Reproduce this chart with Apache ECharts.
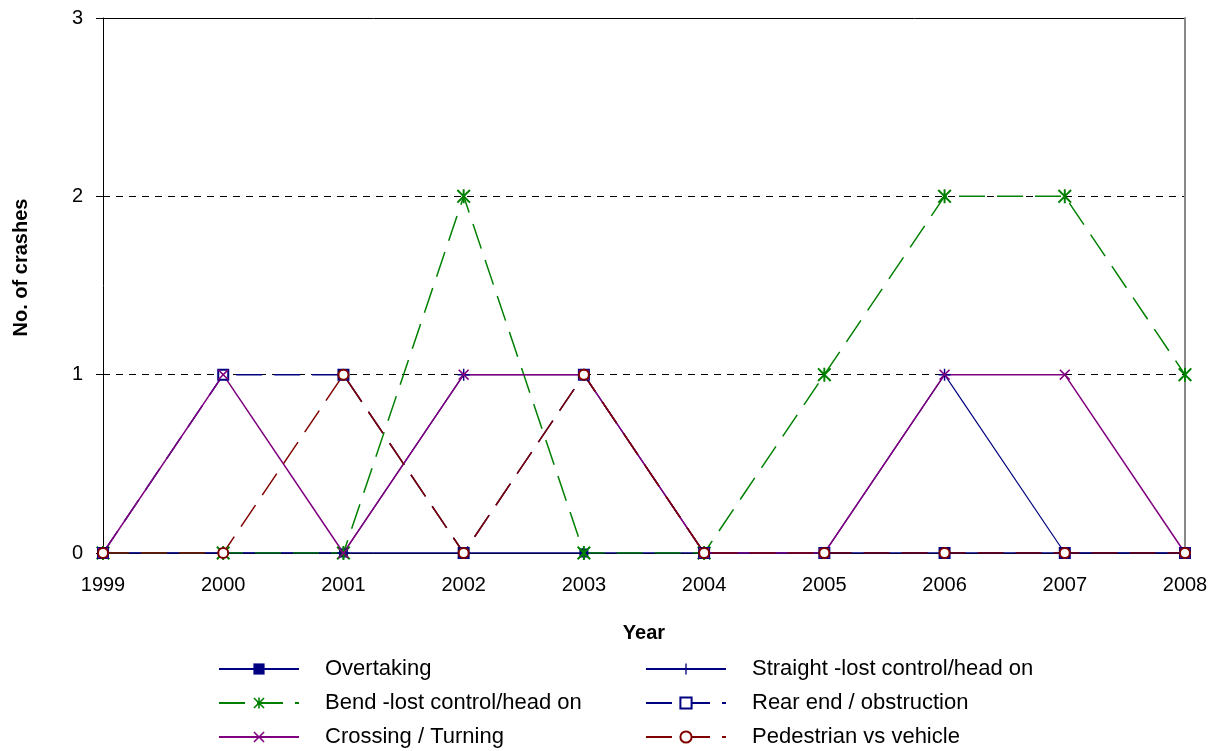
<!DOCTYPE html>
<html>
<head>
<meta charset="utf-8">
<script src="https://cdn.jsdelivr.net/npm/echarts@6/dist/echarts.min.js"></script>
<style>
    html, body { margin: 0; padding: 0; background: #fff; }
    #chart { width: 1220px; height: 751px; }
</style>
</head>
<body>
<div id="chart"></div>
<script>
    // data
    var years = ['1999', '2000', '2001', '2002', '2003', '2004', '2005', '2006', '2007', '2008'];
    var overtaking = [0, 0, 0, 0, 0, 0, 0, 0, 0, 0];
    var straight = [0, 0, 0, 1, 1, 0, 0, 1, 0, 0];
    var bend = [0, 0, 0, 2, 0, 0, 1, 2, 2, 1];
    var rearEnd = [0, 1, 1, 0, 1, 0, 0, 0, 0, 0];
    var crossing = [0, 1, 0, 1, 1, 0, 0, 1, 1, 0];
    var pedestrian = [0, 0, 1, 0, 1, 0, 0, 0, 0, 0];

    var font = "'Liberation Sans', Arial, sans-serif";
    var xMark = 'path://M0,1L1,0L5,4L9,0L10,1L6,5L10,9L9,10L5,6L1,10L0,9L4,5Z';
    var plusMark = 'path://M4.4,0H5.6V4.4H10V5.6H5.6V10H4.4V5.6H0V4.4H4.4Z';
    var starMark = 'path://M0,1L1,0L5,4L9,0L10,1L6,5L10,9L9,10L5,6L1,10L0,9L4,5ZM4.3,0H5.7V10H4.3Z';
    var dash = [26, 12];

    // one legend box per entry so the two columns sit where they should
    function legendItem(name, left, top) {
        return {
            data: [name],
            left: left,
            top: top,
            itemWidth: 80,
            itemHeight: 14,
            textStyle: { fontSize: 22, color: '#000', lineHeight: 22, padding: [0, 0, 0, 21] }
        };
    }

    var myChart = echarts.init(document.getElementById('chart'));
    myChart.setOption({
        animation: false,
        textStyle: { fontFamily: font },
        grid: {
            left: 103,
            right: 35,
            top: 18,
            bottom: 198,
            outerBoundsMode: 'none'
        },
        legend: [
            legendItem('Overtaking', 213, 653),
            legendItem('Bend -lost control/head on', 213, 687),
            legendItem('Crossing / Turning', 213, 721),
            legendItem('Straight -lost control/head on', 640, 653),
            legendItem('Rear end / obstruction', 640, 687),
            legendItem('Pedestrian vs vehicle', 640, 721)
        ],
        xAxis: {
            type: 'category',
            boundaryGap: false,
            data: years,
            name: 'Year',
            nameLocation: 'middle',
            nameGap: 70,
            nameTextStyle: { fontSize: 20, fontWeight: 'bold', color: '#000' },
            axisLine: { lineStyle: { color: '#000', width: 1 } },
            axisTick: { length: 6, lineStyle: { color: '#000' } },
            axisLabel: { fontSize: 20, color: '#000', margin: 22 }
        },
        yAxis: [
            {
                type: 'value',
                min: 0,
                max: 3,
                interval: 1,
                name: 'No. of crashes',
                nameLocation: 'middle',
                nameGap: 72,
                nameTextStyle: { fontSize: 20, fontWeight: 'bold', color: '#000', padding: [0, 0, 0, 36] },
                axisLine: { show: true, lineStyle: { color: '#000', width: 1 } },
                axisTick: { show: true, length: 7, lineStyle: { color: '#000' } },
                axisLabel: { fontSize: 20, color: '#000', margin: 20 },
                splitLine: {
                    show: true,
                    lineStyle: {
                        color: ['rgba(0,0,0,0)', '#000', '#000', 'rgba(0,0,0,0)'],
                        type: [7, 6],
                        width: 1
                    }
                }
            },
            {
                type: 'value',
                position: 'right',
                min: 0,
                max: 3,
                interval: 1,
                axisLine: { show: true, lineStyle: { color: '#888', width: 2 } },
                axisTick: { show: false },
                axisLabel: { show: false },
                splitLine: { show: false }
            },
            {
                // inner half of the crossing ticks, plus the solid top border
                type: 'value',
                position: 'left',
                min: 0,
                max: 3,
                interval: 1,
                axisLine: { show: false },
                axisTick: { show: true, inside: true, length: 5, lineStyle: { color: '#000' } },
                axisLabel: { show: false },
                splitLine: {
                    show: true,
                    lineStyle: {
                        color: ['rgba(0,0,0,0)', 'rgba(0,0,0,0)', 'rgba(0,0,0,0)', '#000'],
                        width: 1
                    }
                }
            }
        ],
        series: [
            {
                name: 'Overtaking',
                type: 'line',
                data: overtaking,
                symbol: 'rect',
                symbolSize: 9,
                lineStyle: { color: '#000080', width: 1.5 },
                itemStyle: { color: '#000080' }
            },
            {
                name: 'Straight -lost control/head on',
                type: 'line',
                data: straight,
                symbol: plusMark,
                symbolSize: 12,
                lineStyle: { color: '#000080', width: 1.2 },
                itemStyle: { color: '#000080' }
            },
            {
                name: 'Bend -lost control/head on',
                type: 'line',
                data: bend,
                symbol: starMark,
                symbolSize: 14,
                lineStyle: { color: '#008000', width: 1.5, type: dash },
                itemStyle: { color: '#008000' }
            },
            {
                name: 'Rear end / obstruction',
                type: 'line',
                data: rearEnd,
                symbol: 'rect',
                symbolSize: 10,
                lineStyle: { color: '#000080', width: 1.5, type: dash },
                itemStyle: { color: '#fff', borderColor: '#000080', borderWidth: 2 }
            },
            {
                name: 'Crossing / Turning',
                type: 'line',
                data: crossing,
                symbol: xMark,
                symbolSize: 11,
                lineStyle: { color: '#800080', width: 1.5 },
                itemStyle: { color: '#800080' }
            },
            {
                name: 'Pedestrian vs vehicle',
                type: 'line',
                data: pedestrian,
                symbol: 'circle',
                symbolSize: 10,
                lineStyle: { color: '#800000', width: 1.5, type: dash },
                itemStyle: { color: '#fff', borderColor: '#800000', borderWidth: 2 }
            }
        ]
    });
</script>
</body>
</html>
